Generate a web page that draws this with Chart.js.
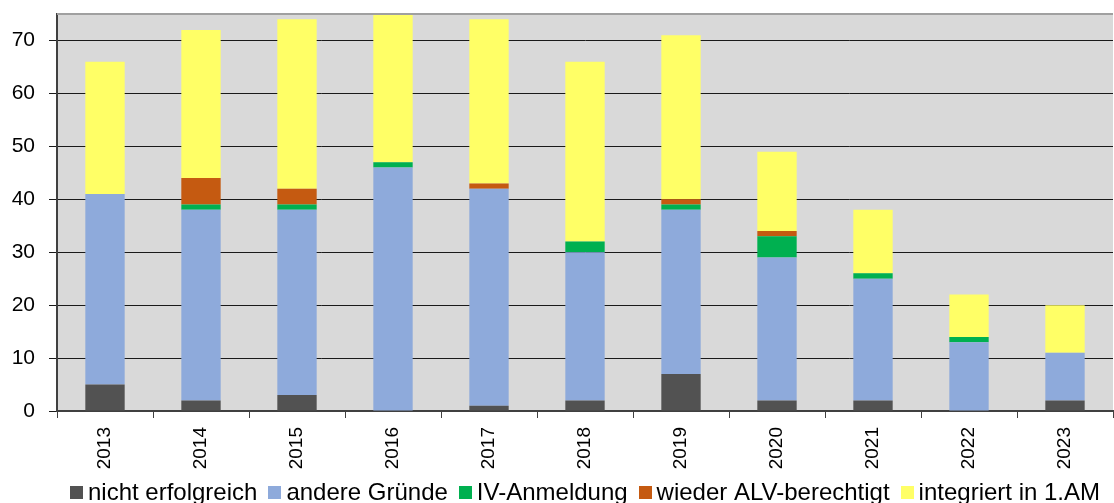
<!DOCTYPE html>
<html>
<head>
<meta charset="utf-8">
<script src="https://cdn.jsdelivr.net/npm/chart.js@4.4.0/dist/chart.umd.min.js"></script>
<style>
  html, body { margin: 0; padding: 0; background: #ffffff; }
  #wrap { width: 1114px; height: 503px; position: relative; }
</style>
</head>
<body>
<div id="wrap"><canvas id="c" width="1114" height="503"></canvas></div>
<script>
const categories = ['2013','2014','2015','2016','2017','2018','2019','2020','2021','2022','2023'];
const nichtErfolgreich = [5, 2, 3, 0, 1, 2, 7, 2, 2, 0, 2];
const andereGruende   = [36, 36, 35, 46, 41, 28, 31, 27, 23, 13, 9];
const ivAnmeldung     = [0, 1, 1, 1, 0, 2, 1, 4, 1, 1, 0];
const alvBerechtigt   = [0, 5, 3, 0, 1, 0, 1, 1, 0, 0, 0];
const integriert      = [25, 28, 32, 28, 31, 34, 31, 15, 12, 8, 9];
const seriesNames = ['nicht erfolgreich', 'andere Gründe', 'IV-Anmeldung', 'wieder ALV-berechtigt', 'integriert in 1.AM'];
const yMax = 75;
const yStep = 10;

const colors = ['#525252', '#8EAADB', '#00B050', '#C55A11', '#FFFF66'];
const seriesData = [nichtErfolgreich, andereGruende, ivAnmeldung, alvBerechtigt, integriert];

const FONT = "'Liberation Sans', Arial, sans-serif";
const LEGEND_H = 27;

const plotBg = {
  id: 'plotBg',
  beforeDraw(chart) {
    const { ctx, chartArea: a } = chart;
    ctx.save();
    ctx.fillStyle = '#D9D9D9';
    ctx.fillRect(a.left, a.top, a.right - a.left, a.bottom - a.top);
    ctx.restore();
  },
  afterDatasetsDraw(chart) {
    const { ctx, chartArea: a } = chart;
    ctx.save();
    ctx.strokeStyle = '#A0A0A0';
    ctx.lineWidth = 2;
    ctx.beginPath();
    ctx.moveTo(a.left, a.top);
    ctx.lineTo(a.right, a.top);
    ctx.stroke();
    ctx.restore();
  },
  afterDraw(chart) {
    // Legend drawn from the chart's own dataset labels & colours
    const { ctx, chartArea: a } = chart;
    const ds = chart.data.datasets;
    const box = 13, gapBoxText = 5, gapItems = 11;
    ctx.save();
    ctx.font = '24px ' + FONT;
    ctx.textBaseline = 'middle';
    ctx.textAlign = 'left';
    const widths = ds.map(d => ctx.measureText(d.label).width);
    const total = widths.reduce((s, w) => s + w, 0) + ds.length * (box + gapBoxText) + (ds.length - 1) * gapItems;
    let x = (a.left + a.right) / 2 - total / 2;
    const cy = chart.height - LEGEND_H + 16;
    ds.forEach((d, i) => {
      ctx.fillStyle = d.backgroundColor;
      ctx.fillRect(Math.round(x), Math.round(cy - box / 2), box, box);
      x += box + gapBoxText;
      ctx.fillStyle = '#000';
      ctx.fillText(d.label, x, cy + 1);
      x += widths[i] + gapItems;
    });
    ctx.restore();
  }
};

new Chart(document.getElementById('c'), {
  type: 'bar',
  data: {
    labels: categories,
    datasets: seriesData.map((d, i) => ({
      label: seriesNames[i],
      data: d,
      backgroundColor: colors[i],
      borderWidth: 0,
      categoryPercentage: 0.41,
      barPercentage: 1.0
    }))
  },
  options: {
    responsive: false,
    animation: false,
    devicePixelRatio: 1,
    layout: { padding: { top: 14, right: 1, left: 0, bottom: LEGEND_H } },
    plugins: {
      tooltip: { enabled: false },
      legend: { display: false }
    },
    scales: {
      x: {
        stacked: true,
        afterFit(s) { s.height = 65; s.paddingLeft = 0; s.paddingRight = 0; },
        grid: { drawOnChartArea: false, drawTicks: true, tickLength: 7, color: '#404040', offset: true },
        border: { display: true, color: '#404040', width: 2 },
        ticks: {
          color: '#000',
          minRotation: 90, maxRotation: 90,
          padding: 9,
          font: { family: FONT, size: 19 }
        }
      },
      y: {
        stacked: true,
        min: 0,
        max: yMax,
        afterFit(s) { s.width = 57; s.paddingTop = 0; s.paddingBottom = 0; },
        grid: { color: '#1a1a1a', lineWidth: 1, drawTicks: true, tickLength: 8 },
        border: { display: true, color: '#404040', width: 2 },
        ticks: {
          stepSize: yStep,
          includeBounds: false,
          color: '#000',
          padding: 14,
          font: { family: FONT, size: 21 }
        }
      }
    }
  },
  plugins: [plotBg]
});
</script>
</body>
</html>
